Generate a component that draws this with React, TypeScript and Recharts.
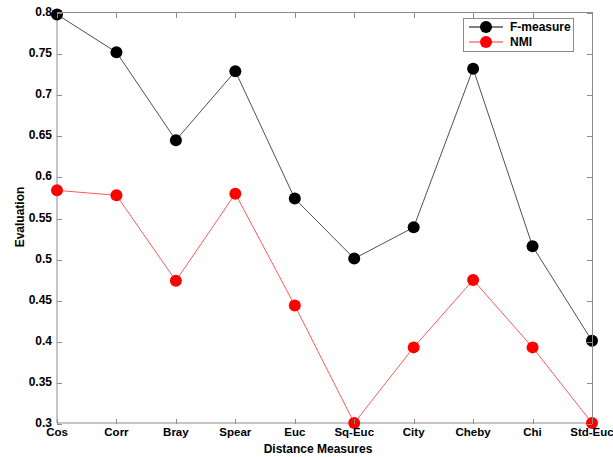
import React from 'react';
import { LineChart, Line, XAxis, YAxis } from 'recharts';

const categories = ['Cos', 'Corr', 'Bray', 'Spear', 'Euc', 'Sq-Euc', 'City', 'Cheby', 'Chi', 'Std-Euc'];
const fMeasure = [0.797, 0.751, 0.644, 0.728, 0.573, 0.5, 0.538, 0.731, 0.515, 0.4];
const nmi = [0.583, 0.577, 0.473, 0.579, 0.443, 0.3, 0.392, 0.474, 0.392, 0.3];
const yTicks = [0.3, 0.35, 0.4, 0.45, 0.5, 0.55, 0.6, 0.65, 0.7, 0.75, 0.8];

const data = categories.map((name, i) => ({ name, f: fMeasure[i], nmi: nmi[i] }));

const FONT = '"Liberation Sans", Arial, sans-serif';
const AXIS = '#8c8c8c';

// plot box (matches chart margins below)
const W = 613;
const H = 457;
const M = { top: 12, right: 21, bottom: 34, left: 57 };

const BottomTick = (props: any) => {
  const { x, y, payload } = props;
  return (
    <text x={x} y={y + 13} textAnchor="middle" fontSize={11.5} fontWeight="bold" fontFamily={FONT} fill="#000">
      {payload.value}
    </text>
  );
};

const LeftTick = (props: any) => {
  const { x, y, payload } = props;
  return (
    <text x={x - 5} y={y + 4} textAnchor="end" fontSize={12} fontWeight="bold" fontFamily={FONT} fill="#000">
      {String(payload.value)}
    </text>
  );
};

// box around the plot with inward ticks on all four sides (matlab style)
const Frame = () => {
  const pw = W - M.left - M.right;
  const ph = H - M.top - M.bottom;
  const tick = (s: React.CSSProperties, k: string) => (
    <div key={k} style={{ position: 'absolute', background: AXIS, ...s }} />
  );
  return (
    <div
      style={{
        position: 'absolute', left: M.left, top: M.top, width: pw, height: ph, zIndex: 5,
        borderTop: `1px solid ${AXIS}`, borderRight: `1px solid ${AXIS}`, pointerEvents: 'none',
      }}
    >
      {categories.map((c, i) => {
        const x = (i / (categories.length - 1)) * pw;
        return [
          tick({ left: x, top: 0, width: 1, height: 5 }, `t${c}`),
          tick({ left: x, top: ph - 5, width: 1, height: 5 }, `b${c}`),
        ];
      })}
      {yTicks.map((t) => {
        const y = ph - ((t - 0.3) / 0.5) * ph;
        return [
          tick({ left: 0, top: y, width: 5, height: 1 }, `l${t}`),
          tick({ left: pw - 5, top: y, width: 5, height: 1 }, `r${t}`),
        ];
      })}
    </div>
  );
};

const LegendBox = () => (
  <svg width={112} height={35} style={{ display: 'block' }}>
    <rect x={0.5} y={0.5} width={110} height={33} fill="#fff" stroke={AXIS} />
    <line x1={6} x2={40} y1={9} y2={9} stroke="#000" />
    <circle cx={23} cy={9} r={6} fill="#000" />
    <text x={47} y={13} fontSize={12} fontWeight="bold" fontFamily={FONT}>F-measure</text>
    <line x1={6} x2={40} y1={24} y2={24} stroke="#ff3030" />
    <circle cx={23} cy={24} r={6} fill="#ff0000" />
    <text x={47} y={28} fontSize={12} fontWeight="bold" fontFamily={FONT}>NMI</text>
  </svg>
);

export default function App() {
  return (
    <div style={{ position: 'absolute', left: 0, top: 0, width: W, height: H, background: '#fff' }}>
      <LineChart width={W} height={H} data={data} margin={{ top: M.top, right: M.right, bottom: 0, left: 0 }}>
        <XAxis
          dataKey="name"
          scale="point"
          padding={{ left: 0, right: 0 }}
          height={M.bottom}
          stroke={AXIS}
          tickLine={false}
          tickSize={0}
          tickMargin={0}
          interval={0}
          tick={<BottomTick />}
        />
        <YAxis
          domain={[0.3, 0.8]}
          ticks={yTicks}
          width={M.left}
          stroke={AXIS}
          tickLine={false}
          tickSize={0}
          tickMargin={0}
          interval={0}
          tick={<LeftTick />}
        />
        <Line
          dataKey="f"
          name="F-measure"
          stroke="#222"
          strokeWidth={0.8}
          dot={{ r: 6, fill: '#000', stroke: '#000', strokeWidth: 0 }}
          activeDot={false}
          isAnimationActive={false}
        />
        <Line
          dataKey="nmi"
          name="NMI"
          stroke="#ff3030"
          strokeWidth={0.8}
          dot={{ r: 6, fill: '#ff0000', stroke: '#ff0000', strokeWidth: 0 }}
          activeDot={false}
          isAnimationActive={false}
        />
      </LineChart>
      <Frame />
      <div style={{ position: 'absolute', left: 463, top: 18, zIndex: 6 }}>
        <LegendBox />
      </div>
      <div
        style={{
          position: 'absolute', left: 20, top: 217, transform: 'translate(-50%, -50%) rotate(-90deg)',
          fontFamily: FONT, fontSize: 12, fontWeight: 'bold', whiteSpace: 'nowrap',
        }}
      >
        Evaluation
      </div>
      <div
        style={{
          position: 'absolute', left: 318, top: 449, transform: 'translate(-50%, -50%)',
          fontFamily: FONT, fontSize: 12, fontWeight: 'bold', whiteSpace: 'nowrap',
        }}
      >
        Distance Measures
      </div>
    </div>
  );
}
